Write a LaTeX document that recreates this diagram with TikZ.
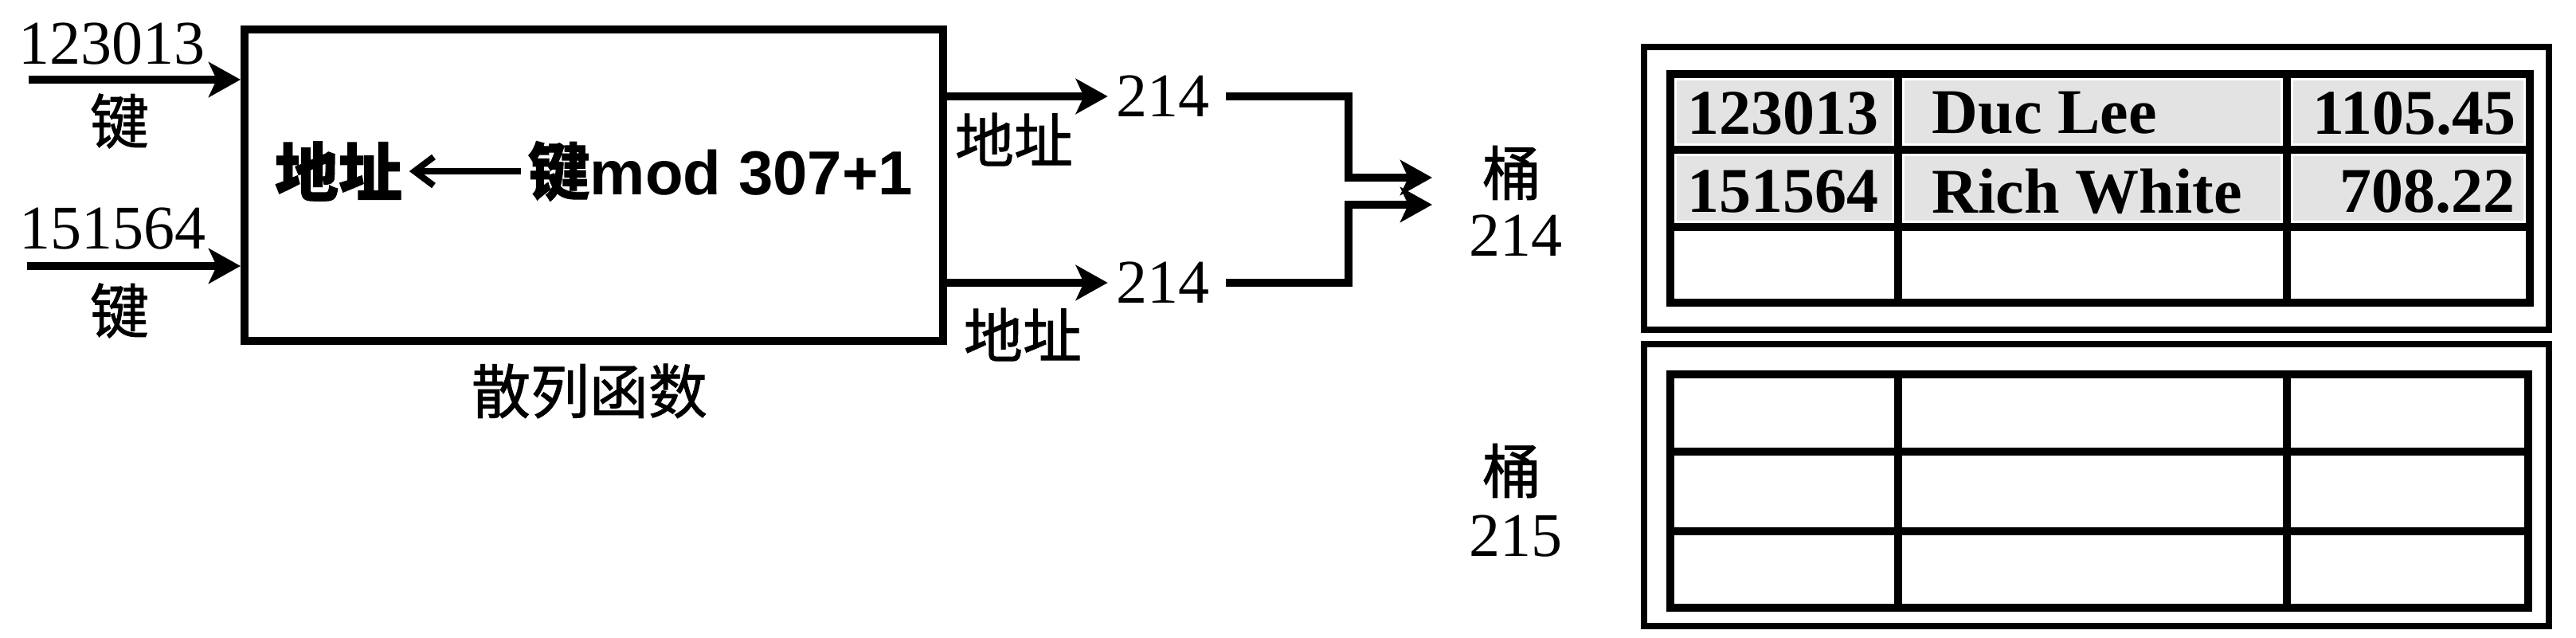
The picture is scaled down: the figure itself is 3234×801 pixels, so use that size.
\documentclass[tikz,border=0pt]{standalone}
\usepackage{fontspec}
\setmainfont{Liberation Serif}
\setsansfont{Liberation Sans}
\newfontfamily\cjk[FakeBold=1.2]{Noto Sans CJK SC}
\usetikzlibrary{arrows.meta}
\begin{document}
\begin{tikzpicture}[x=0.25pt,y=-0.25pt,
  lbl/.style={font=\fontsize{19.5}{20}\selectfont, inner sep=0pt},
  cjklbl/.style={font=\cjk\fontsize{18.5}{20}\selectfont, inner sep=0pt},
  inner/.style={font=\sffamily\bfseries\fontsize{20}{22}\selectfont, inner sep=0pt},
  ar/.style={line width=2.5pt, -{Stealth[length=10pt,width=11pt,inset=2.5pt]}},
  inar/.style={line width=2pt, -{Straight Barb[length=6pt,width=9pt,line width=2pt]}},
  frame/.style={line width=1.8pt},
  tbl/.style={line width=2.3pt},
  shade/.style={fill=gray!22, draw=none},
  cell/.style={font=\bfseries\fontsize{20}{22}\selectfont, inner sep=0pt}]
\useasboundingbox (0,0) rectangle (3234,801);

% inputs
\node[lbl] (k1) at (140,55) {123013};
\node[cjklbl] (j1) at (150,152) {键};
\node[lbl] (k2) at (141,287) {151564};
\node[cjklbl] (j2) at (150,390) {键};
\coordinate (s1) at (36,100);
\coordinate (s2) at (34,334);

% hash function box
\node[draw, line width=2.5pt, minimum width=219.25pt, minimum height=97.75pt, inner sep=0pt] (hf) at (745.5,232.5) {};
\node[inner] (ha) at (425,215) {\cjk 地址};
\node[inner, anchor=west, font=\sffamily\bfseries\fontsize{19.5}{22}\selectfont] (hb) at (662,215) {{\cjk 键}mod 307+1};
\draw[inar] ([xshift=-2pt]hb.west) -- ([xshift=2pt]ha.east);
\node[cjklbl] (hn) at (740,491) {散列函数};

\draw[ar] (s1) -- (s1 -| hf.west);
\draw[ar] (s2) -- (s2 -| hf.west);

% outputs
\node[lbl] (t1) at (1460,121) {214};
\node[lbl] (t2) at (1460,355) {214};
\node[cjklbl] (d1) at (1273,175) {地址};
\node[cjklbl] (d2) at (1284,420) {地址};
\draw[ar] (hf.east |- t1) -- ([xshift=-2.5pt]t1.west);
\draw[ar] (hf.east |- t2) -- ([xshift=-2.5pt]t2.west);

\coordinate (m1) at (1693,223);
\coordinate (m2) at (1693,257);
\coordinate (e1) at (1798,223);
\coordinate (e2) at (1798,257);
\draw[ar] ([xshift=5pt]t1.east) -| (m1) -- (e1);
\draw[ar] ([xshift=5pt]t2.east) -| (m2) -- (e2);

% bucket labels
\node[cjklbl] (b1) at (1898,217) {桶};
\node[lbl] (b1n) at (1903,296) {214};
\node[cjklbl] (b2) at (1898,591) {桶};
\node[lbl] (b2n) at (1903,673) {215};

% bucket 214
\draw[frame] (2064,59) rectangle (3200,414);
\foreach \xa/\xb in {2097/2383, 2383/2871, 2871/3176}{
  \fill[shade] (\xa+8,93+8) rectangle (\xb-8,188-8);
  \fill[shade] (\xa+8,188+8) rectangle (\xb-8,285-8);
}
\draw[tbl] (2097,93) rectangle (3176,380);
\draw[tbl] (2097,188) -- (3176,188);
\draw[tbl] (2097,285) -- (3176,285);
\draw[tbl] (2383,93) -- (2383,380);
\draw[tbl] (2871,93) -- (2871,380);
\node[cell] (c11) at (2238,142) {123013};
\node[cell, anchor=west] (c12) at (2425,142) {Duc Lee};
\node[cell] (c13) at (3031,142) {1105.45};
\node[cell] (c21) at (2238,240) {151564};
\node[cell, anchor=west] (c22) at (2425,240) {Rich White};
\node[cell, anchor=east] (c23) at (3158,240) {708.22};

% bucket 215
\draw[frame] (2064,432) rectangle (3200,786);
\draw[tbl] (2097,470) rectangle (3174,763);
\draw[tbl] (2097,567) -- (3174,567);
\draw[tbl] (2097,667) -- (3174,667);
\draw[tbl] (2383,470) -- (2383,763);
\draw[tbl] (2871,470) -- (2871,763);
\end{tikzpicture}
\end{document}
